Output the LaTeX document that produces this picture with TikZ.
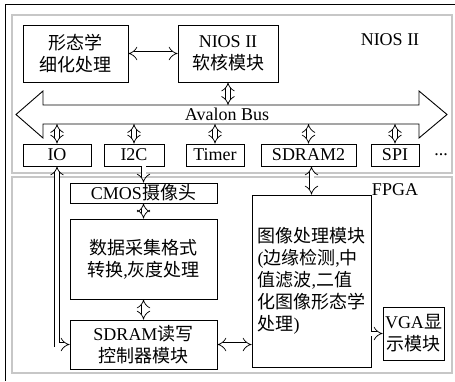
\documentclass[tikz,border=0pt]{standalone}
\usepackage{fontspec}
\setmainfont{Liberation Serif}
\newfontfamily\cjk{Noto Sans CJK SC}
\newcommand{\zh}[1]{{\cjk #1}}
\usetikzlibrary{arrows.meta,positioning,calc}
\tikzset{
  blk/.style={draw,line width=0.9pt,inner sep=0pt,align=center},
  dbl/.style={double,double distance=4pt,line width=0.75pt,{Implies[scale=1.5]}-{Implies[scale=1.5]}},
  one/.style={double,double distance=4pt,line width=0.75pt,-{Implies[scale=1.5]}},
  panel/.style={draw=black!22,line width=1.8pt},
}
\begin{document}
\begin{tikzpicture}[x=1pt,y=-1pt,every node/.style={font=\fontsize{18}{22}\selectfont}]
 \useasboundingbox (0,0) rectangle (455,381);
 \draw[line width=0.9pt] (5,381)--(5,4)--(455,4);
 % two panels
 \draw[panel] (12,15) rectangle (452,173);
 \draw[panel] (12,177) rectangle (452,373);
 \node at (390,40){NIOS II}; \node at (395,190){FPGA};
 % avalon bus
 \draw[line width=0.9pt] (16,114.5)--(43,91)--(43,105)--(419,105)--(419,91)--(447,114.5)--(419,138)--(419,124)--(43,124)--(43,138)--cycle;
 \node (bus) at (227,114.5){Avalon Bus};
 \coordinate (busN) at (0,105); \coordinate (busS) at (0,124);
 % nios side
 \node[blk,minimum width=105,minimum height=57] (morph) at (75.5,53.5){\zh{形态学}\\\zh{细化处理}};
 \node[blk,minimum width=100,minimum height=57] (nios) at (228,53.5){NIOS II\\\zh{软核模块}};
 \node[blk,minimum width=68,minimum height=22] (io) at (57,155){IO};
 \node[blk,minimum width=60,minimum height=22] (i2c) at (134,155){I2C};
 \node[blk,minimum width=58,minimum height=22] (timer) at (215,155){Timer};
 \node[blk,minimum width=95,minimum height=22] (sdram2) at (308.5,155){SDRAM2};
 \node[blk,minimum width=48,minimum height=22] (spi) at (395,155){SPI};
 \node (more) at (441,155){...};
 % fpga side
 \node[blk,minimum width=147,minimum height=20] (cmos) at (143.5,193){CMOS\zh{摄像头}};
 \node[blk,minimum width=147,minimum height=80] (acq) at (143.5,259){\zh{数据采集格式}\\\zh{转换},\zh{灰度处理}};
 \node[blk,minimum width=147,minimum height=49] (sdctl) at (143.5,344.5){SDRAM\zh{读写}\\\zh{控制器模块}};
 \node[blk,minimum width=119,minimum height=172,align=left] (img) at (311.5,281){\zh{图像处理模块}\\(\zh{边缘检测},\zh{中}\\\zh{值滤波},\zh{二值}\\\zh{化图像形态学}\\\zh{处理})};
 \node[blk,minimum width=61,minimum height=53] (vga) at (413.5,333.5){VGA\zh{显}\\\zh{示模块}};
 % connections
 \draw[dbl] (morph.east)--(nios.west);
 \draw[dbl] (nios.south)--(nios.south |- busN);
 \foreach \p in {io,i2c,timer,sdram2,spi} \draw[dbl] (\p.north |- busS)--(\p.north);
 \draw[one] (cmos.north |- i2c.south)--(cmos.north);
 \draw[dbl] (cmos.south)--(acq.north);
 \draw[dbl] (acq.south)--(sdctl.north);
 \draw[dbl] (io.south)|-(sdctl.west);
 \draw[dbl] (img.north |- sdram2.south)--(img.north);
 \draw[dbl] (sdctl.east)--(sdctl.east -| img.west);
 \draw[one] (vga.west -| img.east)--(vga.west);
\end{tikzpicture}
\end{document}
